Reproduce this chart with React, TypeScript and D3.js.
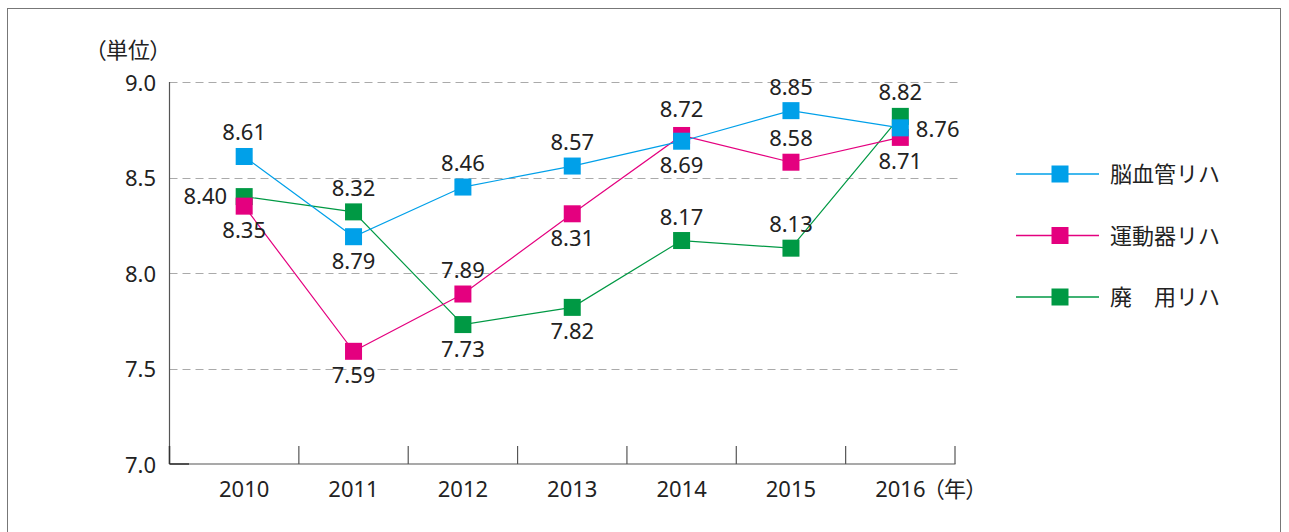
import React from "react";
import * as d3 from "d3";

const years = ["2010", "2011", "2012", "2013", "2014", "2015", "2016"];
const seriesNames = ["脳血管リハ", "運動器リハ", "廃　用リハ"];
const seriesColors = ["#00a0e9", "#e4007f", "#009944"];
const cerebro = [8.61, 8.19, 8.45, 8.56, 8.69, 8.85, 8.76];
const cerebroLabels = ["8.61", "8.79", "8.46", "8.57", "8.69", "8.85", "8.76"];
const cerebroPlace = ["above", "below", "above", "above", "below", "above", "right"];
const motor = [8.35, 7.59, 7.89, 8.31, 8.72, 8.58, 8.71];
const motorLabels = ["8.35", "7.59", "7.89", "8.31", "8.72", "8.58", "8.71"];
const motorPlace = ["below", "below", "above", "below", "aboveHigh", "above", "below"];
const disuse = [8.4, 8.32, 7.73, 7.82, 8.17, 8.13, 8.82];
const disuseLabels = ["8.40", "8.32", "7.73", "7.82", "8.17", "8.13", "8.82"];
const disusePlace = ["left", "above", "below", "below", "above", "above", "above"];
const yTicks = [7.0, 7.5, 8.0, 8.5, 9.0];
const gridTicks = [7.5, 8.0, 8.5, 9.0];

const W = 1289;
const H = 532;
const FONT = "'Noto Sans', 'Noto Sans CJK JP', sans-serif";
const FS = 22;

export default function App() {
  const x = d3.scaleBand<string>().domain(years).range([189.5, 955]).paddingInner(0).paddingOuter(0);
  const y = d3.scaleLinear().domain([7, 9]).range([464, 82]);
  const cx = (yr: string) => (x(yr) as number) + x.bandwidth() / 2;
  const axisLeft = 169.5;
  const line = d3
    .line<number>()
    .x((_, i) => cx(years[i]))
    .y((d) => y(d));

  const series = [
    { values: disuse, labels: disuseLabels, place: disusePlace, color: seriesColors[2] },
    { values: motor, labels: motorLabels, place: motorPlace, color: seriesColors[1] },
    { values: cerebro, labels: cerebroLabels, place: cerebroPlace, color: seriesColors[0] },
  ];
  const sq = 17;

  const labelPos = (place: string, px: number, py: number) => {
    switch (place) {
      case "above":
        return { x: px, y: py - 16, anchor: "middle" };
      case "aboveHigh":
        return { x: px, y: py - 18.5, anchor: "middle" };
      case "below":
        return { x: px, y: py + 32, anchor: "middle" };
      case "left":
        return { x: px - 17, y: py + 7, anchor: "end" };
      case "right":
        return { x: px + 15.5, y: py + 9, anchor: "start" };
      default:
        return { x: px, y: py, anchor: "middle" };
    }
  };

  const boundaries = years.map((yr) => (x(yr) as number) + x.bandwidth());
  const cjk: React.CSSProperties = { fontFeatureSettings: "'palt'" };

  return (
    <div style={{ position: "absolute", left: 0, top: 0 }}>
      <svg width={W} height={H} style={{ display: "block", fontFamily: FONT }}>
        <rect x={0} y={0} width={W} height={H} fill="#fff" />
        <rect x={7.5} y={8.5} width={1273} height={H + 20} fill="none" stroke="#777" strokeWidth={1} />

        {gridTicks.map((t) => (
          <line key={t} x1={axisLeft} x2={958} y1={Math.round(y(t)) + 0.5} y2={Math.round(y(t)) + 0.5} stroke="#aaa" strokeWidth={1} strokeDasharray="8,5" />
        ))}

        <line x1={axisLeft} x2={axisLeft} y1={y(9)} y2={y(7)} stroke="#555" strokeWidth={1.2} />
        <line x1={axisLeft} x2={955.5} y1={y(7)} y2={y(7)} stroke="#555" strokeWidth={1.2} />
        <line x1={axisLeft} x2={189} y1={y(7)} y2={y(7)} stroke="#333" strokeWidth={1.5} />
        {boundaries.map((b, i) => (
          <line key={i} x1={b} x2={b} y1={y(7) - 18} y2={y(7)} stroke="#555" strokeWidth={1.2} />
        ))}
        <line x1={axisLeft} x2={axisLeft} y1={y(7) - 18} y2={y(7)} stroke="#333" strokeWidth={1.5} />

        {yTicks.map((t) => (
          <text key={t} x={156} y={y(t) + 8.5} textAnchor="end" fontSize={FS} fill="#222">
            {t.toFixed(1)}
          </text>
        ))}
        <text x={161} y={58} textAnchor="end" fontSize={FS} fill="#222" style={cjk}>（単位）</text>

        {years.map((yr) => (
          <text key={yr} x={cx(yr)} y={497} textAnchor="middle" fontSize={FS} fill="#222">
            {yr}
          </text>
        ))}
        <text x={933} y={497} textAnchor="start" fontSize={FS} fill="#222" style={cjk}>（年）</text>

        {series.map((s, si) => (
          <g key={si}>
            <path d={line(s.values) || ""} fill="none" stroke={s.color} strokeWidth={1.2} />
            {s.values.map((v, i) => (
              <rect key={i} x={cx(years[i]) - sq / 2} y={y(v) - sq / 2} width={sq} height={sq} fill={s.color} />
            ))}
          </g>
        ))}

        {series.map((s, si) => (
          <g key={"l" + si}>
            {s.values.map((v, i) => {
              const p = labelPos(s.place[i], cx(years[i]), y(v));
              return (
                <text key={i} x={p.x} y={p.y} textAnchor={p.anchor as any} fontSize={FS} fill="#222">
                  {s.labels[i]}
                </text>
              );
            })}
          </g>
        ))}

        {seriesNames.map((name, i) => {
          const ly = 174 + i * 61.5;
          return (
            <g key={name}>
              <line x1={1016} x2={1099} y1={ly} y2={ly} stroke={seriesColors[i]} strokeWidth={1.5} />
              <rect x={1060 - sq / 2} y={ly - sq / 2} width={sq} height={sq} fill={seriesColors[i]} />
              <text x={1110} y={ly + 8} fontSize={FS} fill="#222">{name}</text>
            </g>
          );
        })}
      </svg>
    </div>
  );
}
